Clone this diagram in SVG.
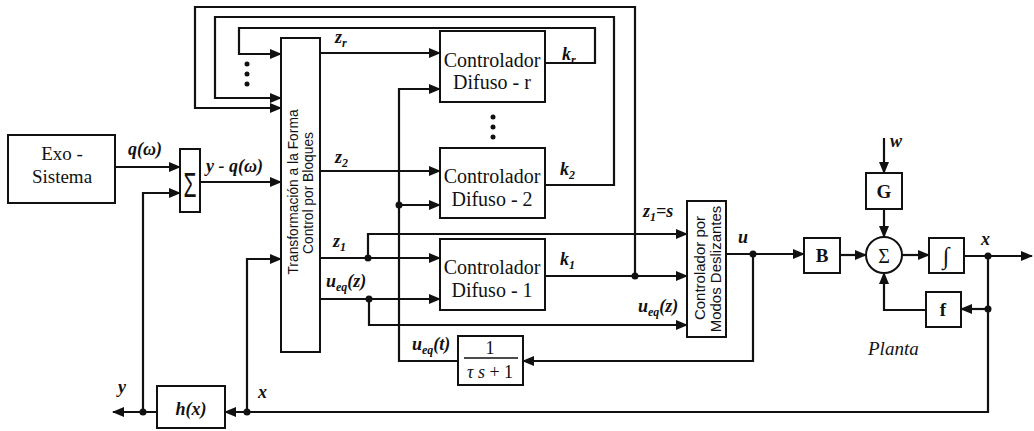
<svg xmlns="http://www.w3.org/2000/svg" width="1034" height="431" viewBox="0 0 1034 431">
<style>
.ln{fill:none;stroke:#111;stroke-width:2.2}
.bx{fill:#fff;stroke:#111;stroke-width:2}
.dot{fill:#111}
.t{font-family:"Liberation Serif",serif;fill:#111}
.lb{font-family:"Liberation Serif",serif;font-style:italic;font-weight:bold;font-size:18px;fill:#111}
.sub{font-size:12px}
.sans{font-family:"Liberation Sans",sans-serif;fill:#111}
</style>
<defs>
<marker id="ah" markerWidth="12" markerHeight="10" refX="11" refY="5" orient="auto" markerUnits="userSpaceOnUse"><path d="M0,0 L12,5 L0,10 z" fill="#111"/></marker>
</defs>
<rect width="1034" height="431" fill="#fff"/>

<g id="connectors">
<path class="ln" marker-end="url(#ah)" d="M115,167 H180"/>
<path class="ln" marker-end="url(#ah)" d="M200,182 H281"/>
<path class="ln" marker-end="url(#ah)" d="M143,412 V193 H180"/>
<path class="ln" marker-end="url(#ah)" d="M157,412 H113"/>
<path class="ln" marker-end="url(#ah)" d="M988,256 V412 H225"/>
<path class="ln" marker-end="url(#ah)" d="M247,412 V259 H281"/>
<path class="ln" marker-end="url(#ah)" d="M545,63 H595 V28 H239 V54 H281"/>
<path class="ln" marker-end="url(#ah)" d="M545,185 H614 V17 H215 V98 H281"/>
<path class="ln" marker-end="url(#ah)" d="M635,276 V7 H195 V108 H281"/>
<path class="ln" marker-end="url(#ah)" d="M320,53 H440"/>
<path class="ln" marker-end="url(#ah)" d="M320,171 H440"/>
<path class="ln" marker-end="url(#ah)" d="M320,258 H440"/>
<path class="ln" marker-end="url(#ah)" d="M368,258 V234 H687"/>
<path class="ln" marker-end="url(#ah)" d="M320,299 H440"/>
<path class="ln" marker-end="url(#ah)" d="M369,299 V325 H687"/>
<path class="ln" marker-end="url(#ah)" d="M545,276 H687"/>
<path class="ln" marker-end="url(#ah)" d="M458,361 H399 V89 H440"/>
<path class="ln" marker-end="url(#ah)" d="M399,205 H440"/>
<path class="ln" marker-end="url(#ah)" d="M726,254 H804"/>
<path class="ln" marker-end="url(#ah)" d="M753,254 V361 H523"/>
<path class="ln" marker-end="url(#ah)" d="M840,255 H866"/>
<path class="ln" marker-end="url(#ah)" d="M902,255 H929"/>
<path class="ln" marker-end="url(#ah)" d="M964,256 H1032"/>
<path class="ln" marker-end="url(#ah)" d="M884,138 V173"/>
<path class="ln" marker-end="url(#ah)" d="M884,209 V237"/>
<path class="ln" marker-end="url(#ah)" d="M988,309 H961"/>
<path class="ln" marker-end="url(#ah)" d="M926,310 H884 V273"/>
<circle class="dot" cx="143" cy="412" r="3.5"/>
<circle class="dot" cx="247" cy="412" r="3.5"/>
<circle class="dot" cx="368" cy="258" r="3.5"/>
<circle class="dot" cx="369" cy="299" r="3.5"/>
<circle class="dot" cx="635" cy="276" r="3.5"/>
<circle class="dot" cx="399" cy="205" r="3.5"/>
<circle class="dot" cx="753" cy="254" r="3.5"/>
<circle class="dot" cx="988" cy="256" r="3.5"/>
<circle class="dot" cx="988" cy="309" r="3.5"/>
<circle class="dot" cx="247" cy="64" r="2.5"/>
<circle class="dot" cx="247" cy="74" r="2.5"/>
<circle class="dot" cx="247" cy="84" r="2.5"/>
<circle class="dot" cx="493" cy="117" r="2.5"/>
<circle class="dot" cx="493" cy="127" r="2.5"/>
<circle class="dot" cx="493" cy="137" r="2.5"/>
</g>

<g id="exo">
<rect class="bx" x="8" y="135" width="107" height="68"/>
<text class="t" x="62" y="160" font-size="19" text-anchor="middle">Exo -</text>
<text class="t" x="62" y="183" font-size="19" text-anchor="middle">Sistema</text>
</g>

<g id="sum1">
<rect class="bx" x="180" y="149" width="20" height="63"/>
<text class="sans" transform="translate(190,197) scale(0.6,1)" font-size="35" text-anchor="middle">Σ</text>
</g>

<g id="transform">
<rect class="bx" x="281" y="38" width="39" height="314"/>
<text class="sans" transform="translate(298,192) rotate(-90)" font-size="13.8" text-anchor="middle">Transformación a la Forma</text>
<text class="sans" transform="translate(313,193) rotate(-90)" font-size="13.8" text-anchor="middle">Control por Bloques</text>
</g>

<g id="difuso-r">
<rect class="bx" x="440" y="31" width="105" height="71"/>
<text class="t" x="492" y="67" font-size="20" text-anchor="middle">Controlador</text>
<text class="t" x="492" y="89" font-size="20" text-anchor="middle">Difuso - r</text>
</g>

<g id="difuso-2">
<rect class="bx" x="440" y="148" width="105" height="70"/>
<text class="t" x="492" y="183" font-size="20" text-anchor="middle">Controlador</text>
<text class="t" x="492" y="206" font-size="20" text-anchor="middle">Difuso - 2</text>
</g>

<g id="difuso-1">
<rect class="bx" x="440" y="239" width="105" height="71"/>
<text class="t" x="492" y="274" font-size="20" text-anchor="middle">Controlador</text>
<text class="t" x="492" y="297" font-size="20" text-anchor="middle">Difuso - 1</text>
</g>

<g id="modos">
<rect class="bx" x="687" y="201" width="39" height="136"/>
<text class="sans" transform="translate(705,268) rotate(-90)" font-size="15" text-anchor="middle">Controlador por</text>
<text class="sans" transform="translate(721,269) rotate(-90)" font-size="15" text-anchor="middle">Modos Deslizantes</text>
</g>

<g id="filtro">
<rect class="bx" x="458" y="336" width="65" height="49"/>
<text class="t" x="490" y="354" font-size="18" text-anchor="middle">1</text>
<line x1="464" y1="358" x2="518" y2="358" stroke="#111" stroke-width="1.6"/>
<text class="t" x="490" y="378" font-size="18" text-anchor="middle"><tspan font-style="italic">τ s</tspan> + 1</text>
</g>

<g id="hx">
<rect class="bx" x="157" y="386" width="68" height="42"/>
<text class="lb" x="191" y="415" font-size="19" text-anchor="middle">h(x)</text>
</g>

<g id="B">
<rect class="bx" x="804" y="238" width="36" height="35"/>
<text class="t" x="822" y="262" font-size="19" font-weight="bold" text-anchor="middle">B</text>
</g>

<g id="sum2">
<circle class="bx" cx="884" cy="255" r="18"/>
<text class="t" x="884" y="263" font-size="20" text-anchor="middle">Σ</text>
</g>

<g id="G">
<rect class="bx" x="866" y="173" width="36" height="36"/>
<text class="t" x="884" y="198" font-size="19" font-weight="bold" text-anchor="middle">G</text>
</g>

<g id="integ">
<rect class="bx" x="929" y="238" width="35" height="35"/>
<text class="t" x="946" y="264" font-size="24" font-weight="bold" text-anchor="middle">∫</text>
</g>

<g id="f">
<rect class="bx" x="926" y="292" width="35" height="35"/>
<text class="t" x="943" y="316" font-size="19" font-weight="bold" text-anchor="middle">f</text>
</g>

<g id="labels">
<text class="lb" x="128" y="155">q(ω)</text>
<text class="lb" x="206" y="172">y - q(ω)</text>
<text class="lb" x="335" y="43">z<tspan class="sub" dy="4">r</tspan></text>
<text class="lb" x="335" y="163">z<tspan class="sub" dy="4">2</tspan></text>
<text class="lb" x="333" y="247">z<tspan class="sub" dy="4">1</tspan></text>
<text class="lb" x="326" y="287">u<tspan class="sub" dy="4">eq</tspan><tspan dy="-4">(z)</tspan></text>
<text class="lb" x="562" y="60">k<tspan class="sub" dy="4">r</tspan></text>
<text class="lb" x="560" y="175">k<tspan class="sub" dy="4">2</tspan></text>
<text class="lb" x="560" y="265">k<tspan class="sub" dy="4">1</tspan></text>
<text class="lb" x="643" y="217">z<tspan class="sub" dy="4">1</tspan><tspan dy="-4">=s</tspan></text>
<text class="lb" x="638" y="312">u<tspan class="sub" dy="4">eq</tspan><tspan dy="-4">(z)</tspan></text>
<text class="lb" x="412" y="350">u<tspan class="sub" dy="4">eq</tspan><tspan dy="-4">(t)</tspan></text>
<text class="lb" x="738" y="243">u</text>
<text class="lb" x="981" y="245">x</text>
<text class="lb" x="890" y="147">w</text>
<text class="lb" x="258" y="398">x</text>
<text class="lb" x="118" y="393">y</text>
<text class="t" x="868" y="355" font-size="19" font-style="italic">Planta</text>
</g>
</svg>
